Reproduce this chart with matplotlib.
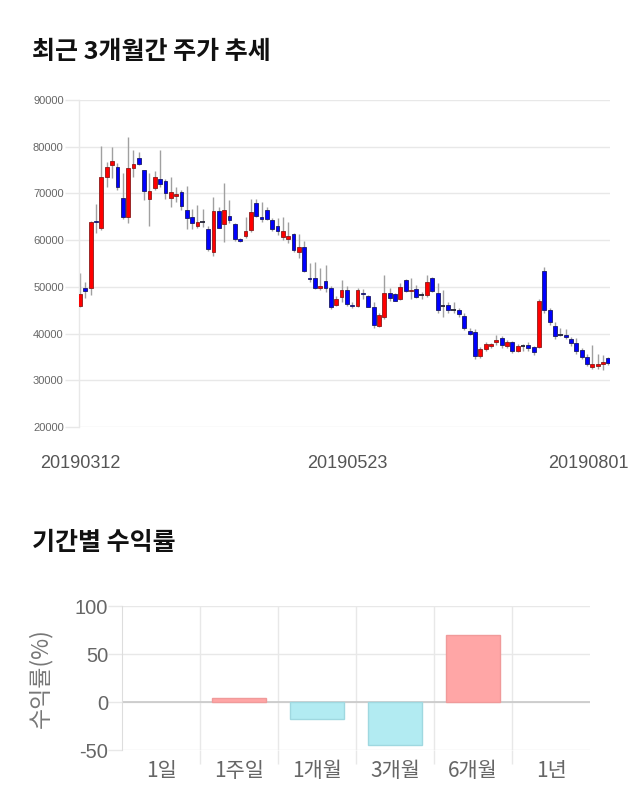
import matplotlib
matplotlib.use("Agg")
import matplotlib.pyplot as plt
import matplotlib.transforms as mtransforms
from matplotlib.ticker import FixedLocator
import numpy as np

# ---------------- data ----------------
opens = [45800, 49700, 49800, 64200, 62500, 73500, 76100, 75700, 69000, 64900,
         75500, 77600, 75000, 68900, 71100, 73000, 72600, 69000, 69500, 70200,
         66400, 64900, 63100, 63900, 62400, 57500, 66200, 63400, 65100, 63400,
         60200, 60900, 62100, 68000, 64900, 66400, 64300, 63000, 60600, 60200,
         61300, 57400, 58600, 51900, 52000, 49800, 51300, 49700, 46200, 47900,
         49300, 46100, 45900, 48700, 48000, 45700, 41600, 43500, 48600, 48400,
         47400, 51400, 49100, 49500, 48200, 48200, 51800, 48600, 45900, 46100,
         45100, 45100, 43800, 40600, 40300, 35100, 36600, 37400, 38100, 39100,
         37300, 38100, 36300, 37300, 37600, 37100, 37200, 53400, 45000, 41700,
         39800, 39600, 38900, 38000, 36400, 35000, 32900, 33100, 33400, 34700]
closes = [48500, 49200, 63800, 63900, 73500, 75600, 77000, 71300, 64900, 75500,
          76200, 76300, 70600, 70500, 73600, 72000, 70000, 70200, 69800, 67400,
          64800, 63700, 63900, 63900, 58100, 66200, 62700, 66400, 64300, 60200,
          59900, 61900, 66000, 65200, 64500, 64500, 62400, 62000, 61900, 60900,
          57900, 58500, 53400, 51600, 49800, 50100, 49700, 45700, 47400, 49300,
          46400, 46000, 49400, 48500, 45700, 41800, 43900, 48600, 47700, 47000,
          49900, 49100, 49400, 47900, 48200, 51100, 49100, 45000, 45900, 45000,
          45100, 44100, 41100, 40000, 35100, 36600, 37700, 37700, 38600, 37500,
          38100, 36200, 37400, 37300, 37000, 36000, 47000, 45000, 42400, 39400,
          39800, 39300, 37900, 36300, 35000, 33400, 33400, 33500, 33900, 33600]
highs = [53000, 51000, 64000, 67700, 80200, 76800, 80000, 76500, 74300, 82100,
         79300, 78800, 75000, 74300, 74800, 79300, 73000, 73600, 71400, 70800,
         71600, 66700, 67500, 66700, 63000, 69300, 67000, 72300, 68600, 63600,
         60500, 65000, 68900, 68900, 68200, 67100, 64800, 64800, 64900, 63900,
         61500, 61400, 59900, 55100, 55400, 54000, 54600, 50200, 48000, 51400,
         50200, 46800, 49800, 49600, 48300, 46800, 44500, 52500, 49700, 48600,
         50800, 51700, 51900, 50500, 48900, 52500, 52100, 50800, 49300, 46800,
         46700, 45400, 44300, 41100, 40900, 37100, 38200, 38000, 39600, 39500,
         38600, 38400, 37800, 37800, 38300, 37400, 47300, 54300, 45400, 42400,
         41200, 40900, 39300, 39000, 37000, 35700, 37500, 35700, 35400, 35000]
lows = [45700, 47600, 48200, 61500, 62200, 71400, 73300, 70700, 64500, 63600,
        73600, 76000, 68600, 63000, 70700, 71400, 68900, 67100, 68200, 66400,
        62400, 62400, 62500, 62800, 57600, 56600, 62500, 59500, 63600, 59900,
        59600, 60500, 61800, 65000, 63900, 64300, 62000, 61100, 60000, 59400,
        57500, 56100, 53200, 51100, 49600, 49300, 49000, 45200, 45900, 46800,
        46000, 45400, 45600, 47300, 45600, 41100, 41300, 43200, 46900, 46900,
        47200, 48900, 47300, 47600, 47400, 47800, 48900, 44300, 43600, 44400,
        44500, 43500, 40700, 39700, 34600, 34800, 36300, 37000, 37500, 36900,
        36900, 35800, 36000, 36300, 36300, 35500, 36900, 44300, 41800, 38900,
        39400, 38900, 37400, 35700, 34600, 33100, 32500, 32500, 32100, 33300]
date_ticks = [0, 50, 99]
date_labels = ["20190312", "20190523", "20190801"]
price_ticks = [20000, 30000, 40000, 50000, 60000, 70000, 80000, 90000]

periods = ["1일", "1주일", "1개월", "3개월", "6개월", "1년"]
returns = [0.0, 4.2, -17.5, -44.5, 69.5, 0.0]
return_ticks = [-50, 0, 50, 100]

# ---------------- style ----------------
KR = ["Noto Sans CJK KR", "DejaVu Sans"]
NUM = ["Liberation Sans", "DejaVu Sans"]
GRID = "#e8e8e8"

fig = plt.figure(figsize=(6.4, 8.1), dpi=100)

fig.text(32 / 640, 1 - 52 / 810, "최근 3개월간 주가 추세", family=KR,
         fontsize=18, fontweight="bold", va="center", ha="left", color="#111111")
fig.text(32 / 640, 1 - 543 / 810, "기간별 수익률", family=KR,
         fontsize=18, fontweight="bold", va="center", ha="left", color="#111111")

# ---------------- candlestick ----------------
ax = fig.add_axes([79 / 640, 1 - 427 / 810, 531 / 640, 327 / 810])
x = np.arange(len(opens))
o = np.array(opens); c = np.array(closes); h = np.array(highs); l = np.array(lows)
ax.vlines(x, l, h, color="#a0a0a0", linewidth=1.0, zorder=2)
up = c > o
dn = c < o
eq = c == o
bw = 0.72
ax.bar(x[up], (c - o)[up], bottom=o[up], width=bw, color="#ff0000",
       edgecolor="#8b1a1a", linewidth=0.6, zorder=3)
ax.bar(x[dn], (o - c)[dn], bottom=c[dn], width=bw, color="#0000ff",
       edgecolor="#1a1a66", linewidth=0.6, zorder=3)
ax.hlines(o[eq], x[eq] - bw / 2 - 0.1, x[eq] + bw / 2 + 0.1, color="#222233",
          linewidth=1.3, zorder=3)

ax.set_xlim(-0.2, 99.3)
ax.set_ylim(20000, 90000)
ax.set_yticks(price_ticks)
ax.set_yticklabels([str(v) for v in price_ticks], family=NUM, fontsize=8, color="#666666")
ax.yaxis.grid(True, color=GRID, linewidth=1)
ax.set_axisbelow(True)
ax.tick_params(axis="y", length=10, width=1, color=GRID, pad=1)
ax.set_xticks(date_ticks)
ax.set_xticklabels(date_labels, family=NUM, fontsize=13, color="#555555")
ax.tick_params(axis="x", length=0, pad=20)
for s in ["top", "right", "bottom"]:
    ax.spines[s].set_visible(False)
ax.spines["left"].set_color(GRID)
ax.spines["left"].set_linewidth(1)
lbls = ax.get_xticklabels()
off = mtransforms.ScaledTranslation(-20 / 100, 0, fig.dpi_scale_trans)
lbls[-1].set_transform(lbls[-1].get_transform() + off)

# ---------------- returns bar chart ----------------
bx = fig.add_axes([122 / 640, 1 - 750 / 810, 468 / 640, 144 / 810])
pos = np.arange(len(periods))
rv = np.array(returns)
cols = ["#ffa6a6" if v >= 0 else "#b2ebf2" for v in rv]
ecols = ["#f09a9a" if v >= 0 else "#9fd8e0" for v in rv]
bars = bx.bar(pos, rv, width=0.7, color=cols, edgecolor=ecols, linewidth=1, zorder=3)
for b, v in zip(bars, rv):
    if v == 0:
        b.set_visible(False)
bx.set_xlim(-0.5, len(periods) - 0.5)
bx.set_ylim(-50, 100)
bx.set_yticks(return_ticks)
bx.set_yticklabels([str(v) for v in return_ticks], family=NUM, fontsize=14.5, color="#666666")
bx.yaxis.grid(True, color=GRID, linewidth=1, zorder=0)
bx.axhline(0, color="#c8c8c8", linewidth=1.2, zorder=2)
bx.set_xticks(pos)
bx.set_xticklabels(periods, family=KR, fontsize=15, color="#666666")
bx.xaxis.set_minor_locator(FixedLocator(np.arange(0.5, len(periods) - 0.5, 1.0)))
bx.grid(True, which="minor", axis="x", color=GRID, linewidth=1)
bx.tick_params(axis="x", which="major", length=0, pad=7)
bx.tick_params(axis="x", which="minor", length=10, color=GRID, width=1)
bx.tick_params(axis="y", length=10, color=GRID, width=1, pad=0)
bx.set_axisbelow(True)
for s in ["top", "right", "bottom"]:
    bx.spines[s].set_visible(False)
bx.spines["left"].set_color("#dddddd")
fig.text(40 / 640, 1 - 678 / 810, "수익률(%)", family=KR, fontsize=16.5,
         color="#777777", rotation=90, va="center", ha="center")

fig.savefig("out.png", dpi=100)
